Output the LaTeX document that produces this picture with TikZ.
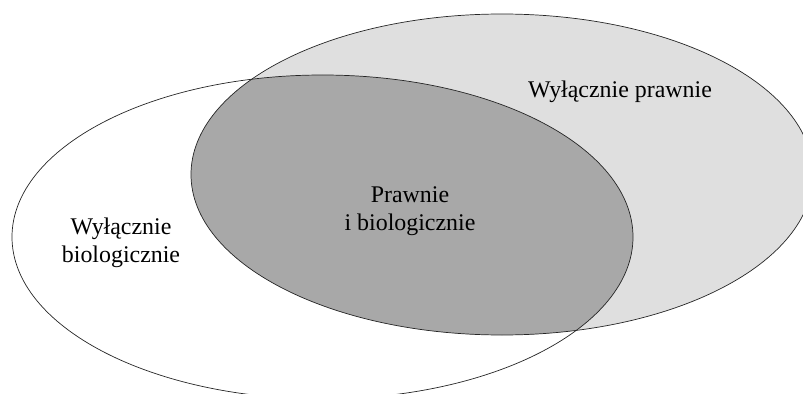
\documentclass[tikz,border=0pt]{standalone}
\usepackage{fontspec}
\setmainfont{Liberation Serif}
\definecolor{legalfill}{RGB}{223,223,223}
\definecolor{bothfill}{RGB}{168,168,168}
\tikzset{
  setline/.style={draw=black!85, line width=0.5pt},
  setlabel/.style={align=center, font=\fontsize{17}{19.9}\selectfont}
}
\begin{document}
\begin{tikzpicture}[x=0.025cm, y=-0.025cm]
            \useasboundingbox (0,0) rectangle (803,394);

            \fill[legalfill] (502,174.5) ellipse [x radius=311, y radius=160.5];
            \begin{scope}
                \clip (322.5,237) ellipse [x radius=310.5, y radius=162];
                \fill[bothfill] (502,174.5) ellipse [x radius=311, y radius=160.5];
            \end{scope}
            \draw[setline] (322.5,237) ellipse [x radius=310.5, y radius=162];
            \draw[setline] (502,174.5) ellipse [x radius=311, y radius=160.5];

            \node[setlabel] (onlylegal) at (620,92) {Wyłącznie prawnie};
            \node[setlabel] (both) at (410,211) {Prawnie\\i biologicznie};
            \node[setlabel] (onlybio) at (121,243) {Wyłącznie\\biologicznie};
        \end{tikzpicture}
\end{document}
